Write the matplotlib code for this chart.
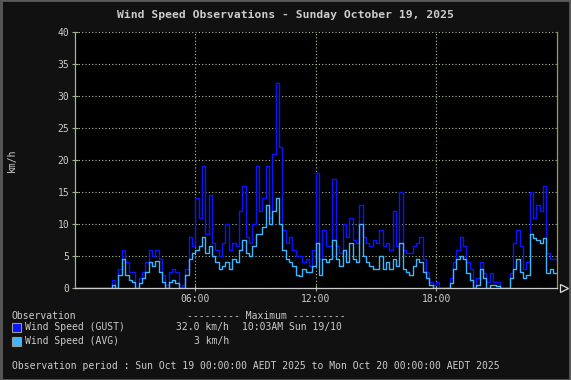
import matplotlib
matplotlib.use('Agg')
import matplotlib.pyplot as plt
from matplotlib.patches import Rectangle
import numpy as np

plt.rcParams['font.family'] = ['DejaVu Sans Mono', 'DejaVu Sans']

# 10 minute samples from 00:00 to 23:50 (km/h)
gust_kmh = [0, 0, 0, 0, 0, 0, 0, 0, 0, 0, 0, 1.2,
            0, 3, 6, 4, 2.5, 2.5, 0, 1.5, 2.5, 4, 6, 5,
            6, 4.5, 2, 0.5, 2.5, 3, 2.5, 0, 0.5, 3, 8, 6.5,
            14, 11, 19, 8.5, 14.5, 7, 6, 5, 7, 10, 6, 7,
            6.5, 12, 16, 8, 7, 10, 19, 12, 14, 19, 11, 21,
            32, 22, 9, 7, 8, 6, 5, 5, 4, 4.5, 3.5, 6,
            18, 4.5, 9, 6.5, 6.5, 17, 6.5, 5.5, 10, 8, 11, 7.5,
            7, 13, 8, 7, 6.5, 7.5, 7, 9, 6.5, 7, 6, 12,
            6.5, 15, 6, 5.5, 5.5, 6.5, 7, 8, 4.5, 2.5, 1, 0.5,
            1, 0, 0, 0, 1.5, 4, 6, 8, 6.5, 4, 3, 0,
            1.5, 4, 2.3, 1, 2.3, 1, 1, 0, 0, 0, 2.3, 7,
            9, 6.5, 3, 4, 15, 11, 13, 12, 16, 5.5, 4.5, 4.5]

avg_kmh = [0, 0, 0, 0, 0, 0, 0, 0, 0, 0, 0, 0.5,
           0, 2, 4.5, 2, 1.2, 1, 0, 0.8, 1.5, 2.5, 4, 3.5,
           4.2, 2.5, 1, 0, 1, 1.2, 0.8, 0, 0, 2, 4.5, 5.5,
           6, 6.5, 8, 5.5, 6.5, 5, 4, 3, 3.5, 4, 3, 4.5,
           4, 6, 7.5, 5.5, 5, 6.5, 8.5, 8.5, 9.5, 13, 10, 12,
           14, 10, 6, 4.5, 4, 3.5, 2, 1.8, 3, 2.5, 2.5, 3.5,
           7, 2, 4.5, 4, 4.5, 7.5, 4.5, 3.5, 6, 4, 7, 4.5,
           4, 10, 5, 4, 3.5, 3, 3, 5, 3, 4, 3, 4.5,
           3.5, 7, 3, 2.5, 2, 3.5, 4.5, 4, 2.5, 1.5, 0.5, 0,
           0, 0, 0, 0, 0.8, 3, 4.5, 5, 4.5, 2.3, 1.3, 0,
           0.5, 3, 1.5, 0, 0.5, 0.5, 0.3, 0, 0, 0, 1.5, 3,
           4.5, 2.5, 1.5, 2, 8.5, 7.8, 7.5, 7, 7.8, 2.3, 3, 2.4]

hour_ticks = [6, 12, 18]
hour_labels = ['06:00', '12:00', '18:00']
kmh_ticks = [0, 5, 10, 15, 20, 25, 30, 35, 40]

TXT = '#cccccc'
GUST_C = '#0a14ff'
AVG_C = '#3db6ff'

hours = np.arange(len(gust_kmh)) / 6.0
hours = np.append(hours, 24.0)
gust = np.append(gust_kmh, gust_kmh[-1])
avg = np.append(avg_kmh, avg_kmh[-1])

fig = plt.figure(figsize=(5.71, 3.80), dpi=100, facecolor='#111111')
ax = fig.add_axes([75 / 571, 1 - 288 / 380, 481.5 / 571, 256 / 380])
ax.set_facecolor('black')

ax.step(hours, gust, where='post', color=GUST_C, lw=1.0, zorder=3)
ax.step(hours, avg, where='post', color=AVG_C, lw=1.0, zorder=4)

ax.set_xlim(0, 24)
ax.set_ylim(0, 40)
ax.set_xticks(hour_ticks)
ax.set_xticklabels(hour_labels)
ax.set_yticks(kmh_ticks)
ax.grid(True, color='#b4c4a4', linestyle=(0, (1, 2)), lw=0.8, zorder=1)
ax.tick_params(axis='both', colors='#a0b890', labelcolor=TXT, labelsize=7,
               direction='inout', length=4, width=0.8, pad=2)

ax.spines['top'].set_visible(False)
ax.spines['left'].set_color('#a0b890')
ax.spines['bottom'].set_color('#cccccc')
ax.spines['right'].set_color('#9a9a5a')
for s in ax.spines.values():
    s.set_linewidth(0.9)

# arrow at end of the time axis
ax.plot([24.35], [0], marker='>', mfc='none', mec='#dddddd', ms=6,
        mew=0.9, clip_on=False, zorder=5)

fig.text(0.5, 1 - 15 / 380, 'Wind Speed Observations - Sunday October 19, 2025',
         ha='center', va='center', color=TXT, fontsize=8.2, fontweight='bold')
fig.text(12 / 571, 1 - 160 / 380, 'km/h', rotation=90, ha='center', va='center',
         color=TXT, fontsize=7)

fs = 7
fig.text(12 / 571, 1 - 316 / 380, 'Observation', color=TXT, fontsize=fs, va='center')
fig.text(187 / 571, 1 - 316 / 380, '--------- Maximum ---------', color=TXT,
         fontsize=fs, va='center')

rows = [(327, GUST_C, 'Wind Speed (GUST)', '32.0 km/h', '10:03AM Sun 19/10'),
        (341, AVG_C, 'Wind Speed (AVG)', '3 km/h', '')]
for py, col, name, val, when in rows:
    fig.patches.append(Rectangle((12 / 571, 1 - (py + 4.5) / 380), 9 / 571, 9 / 380,
                                 transform=fig.transFigure, facecolor=col,
                                 edgecolor='#999999', lw=0.8))
    fig.text(25 / 571, 1 - py / 380, name, color=TXT, fontsize=fs, va='center')
    fig.text(229 / 571, 1 - py / 380, val, color=TXT, fontsize=fs, va='center', ha='right')
    if when:
        fig.text(242 / 571, 1 - py / 380, when, color=TXT, fontsize=fs, va='center')

fig.text(12 / 571, 1 - 366 / 380,
         'Observation period : Sun Oct 19 00:00:00 AEDT 2025 to Mon Oct 20 00:00:00 AEDT 2025',
         color=TXT, fontsize=fs, va='center')

# outer frame
fig.patches.append(Rectangle((0.001, 0.001), 0.998, 0.998, transform=fig.transFigure,
                             facecolor='none', edgecolor='#5a5a5a', lw=2))

fig.savefig('out.png', dpi=100, facecolor=fig.get_facecolor())
